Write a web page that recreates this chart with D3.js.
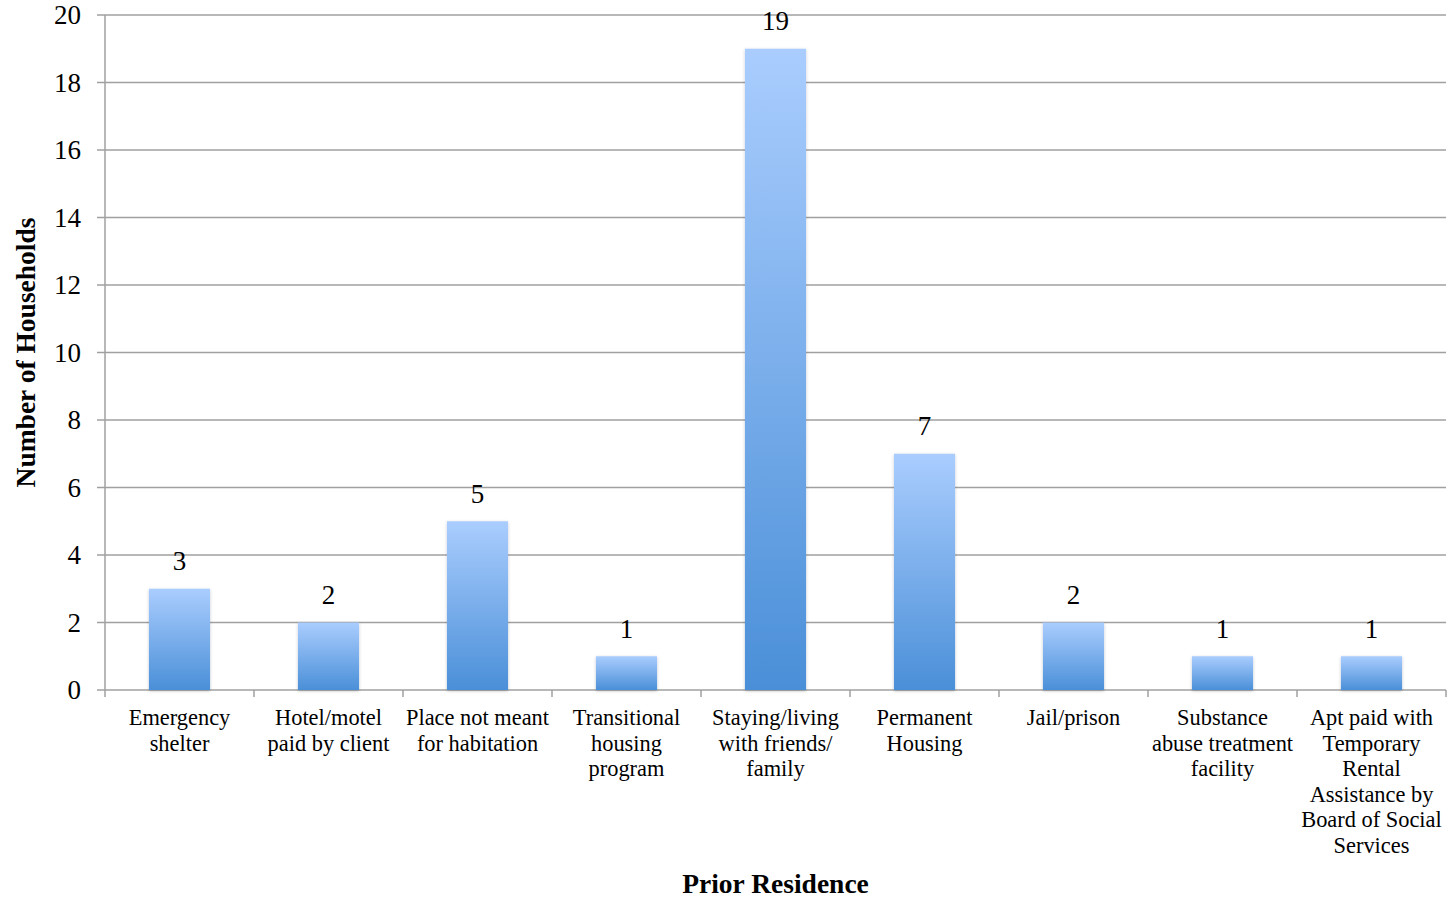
<!DOCTYPE html>
<html><head><meta charset="utf-8">
<script src="https://cdn.jsdelivr.net/npm/d3@7"></script>
<style>body{margin:0;background:#fff}svg{display:block}text{font-family:"Liberation Serif","DejaVu Serif",serif;fill:#000}</style>
</head><body>
<script>
const categories = [
  ["Emergency","shelter"],
  ["Hotel/motel","paid by client"],
  ["Place not meant","for habitation"],
  ["Transitional","housing","program"],
  ["Staying/living","with friends/","family"],
  ["Permanent","Housing"],
  ["Jail/prison"],
  ["Substance","abuse treatment","facility"],
  ["Apt paid with","Temporary","Rental","Assistance by","Board of Social","Services"]
];
const values = [3, 2, 5, 1, 19, 7, 2, 1, 1];
const yTicks = [0, 2, 4, 6, 8, 10, 12, 14, 16, 18, 20];
const yTitle = "Number of Households";
const xTitle = "Prior Residence";

const W = 1456, H = 898;
const m = {left: 105, right: 10, top: 15, bottom: 208};
const svg = d3.select("body").append("svg").attr("width", W).attr("height", H);
const defs = svg.append("defs");
const grad = defs.append("linearGradient").attr("id","g").attr("x1",0).attr("y1",0).attr("x2",0).attr("y2",1);
grad.append("stop").attr("offset","0%").attr("stop-color","#aacdfe");
grad.append("stop").attr("offset","100%").attr("stop-color","#4a8fd8");
const f = defs.append("filter").attr("id","sh").attr("x","-20%").attr("y","-20%").attr("width","140%").attr("height","140%");
f.append("feDropShadow").attr("dx",0).attr("dy",1).attr("stdDeviation",1.5).attr("flood-color","#000").attr("flood-opacity",0.25);

const x = d3.scaleBand().domain(d3.range(categories.length)).range([m.left, W - m.right]).paddingInner(0.59).paddingOuter(0.295);
const xb = d3.scaleBand().domain(d3.range(categories.length)).range([m.left, W - m.right]);
const y = d3.scaleLinear().domain([0, 20]).range([H - m.bottom, m.top]);

// gridlines
svg.append("g").selectAll("line").data(yTicks).join("line")
  .attr("x1", m.left - 8).attr("x2", W - m.right)
  .attr("y1", d => y(d)).attr("y2", d => y(d))
  .attr("stroke", "#a0a0a0").attr("stroke-width", 1.5);
// y axis line
svg.append("line").attr("x1", m.left).attr("x2", m.left).attr("y1", y(20)).attr("y2", y(0))
  .attr("stroke", "#a0a0a0").attr("stroke-width", 1.5);
// x axis tick marks
const bounds = d3.range(categories.length + 1).map(i => i < categories.length ? xb(i) : xb(i-1) + xb.bandwidth());
svg.append("g").selectAll("line").data(bounds).join("line")
  .attr("x1", d => d).attr("x2", d => d).attr("y1", y(0)).attr("y2", y(0) + 7)
  .attr("stroke", "#a0a0a0").attr("stroke-width", 1.5);

// y tick labels
svg.append("g").selectAll("text").data(yTicks).join("text")
  .attr("x", m.left - 24).attr("y", d => y(d)).attr("dy", "0.35em")
  .attr("text-anchor", "end").attr("font-size", 27).text(d => d);

// bars
svg.append("g").selectAll("rect").data(values).join("rect")
  .attr("x", (d,i) => x(i)).attr("width", x.bandwidth())
  .attr("y", d => y(d)).attr("height", d => y(0) - y(d))
  .attr("fill", "url(#g)").attr("filter", "url(#sh)");

// value labels
svg.append("g").selectAll("text").data(values).join("text")
  .attr("x", (d,i) => x(i) + x.bandwidth()/2).attr("y", d => y(d) - 28).attr("dy","0.35em")
  .attr("text-anchor", "middle").attr("font-size", 27).text(d => d);

// category labels
const cl = svg.append("g").selectAll("text").data(categories).join("text")
  .attr("x", (d,i) => xb(i) + xb.bandwidth()/2).attr("y", y(0) + 35)
  .attr("text-anchor", "middle").attr("font-size", 22.4);
cl.selectAll("tspan").data(d => d).join("tspan")
  .attr("x", function(){ return this.parentNode.getAttribute("x"); })
  .attr("dy", (d,i) => i === 0 ? 0 : 25.5).text(d => d);

// axis titles
svg.append("text").attr("x", (m.left + W - m.right)/2 + 0).attr("y", 893)
  .attr("text-anchor","middle").attr("font-size", 27.5).attr("font-weight","bold").text(xTitle);
svg.append("text").attr("transform", `translate(35,${(y(0)+y(20))/2}) rotate(-90)`)
  .attr("text-anchor","middle").attr("font-size", 27.5).attr("font-weight","bold").text(yTitle);
</script>
</body></html>
